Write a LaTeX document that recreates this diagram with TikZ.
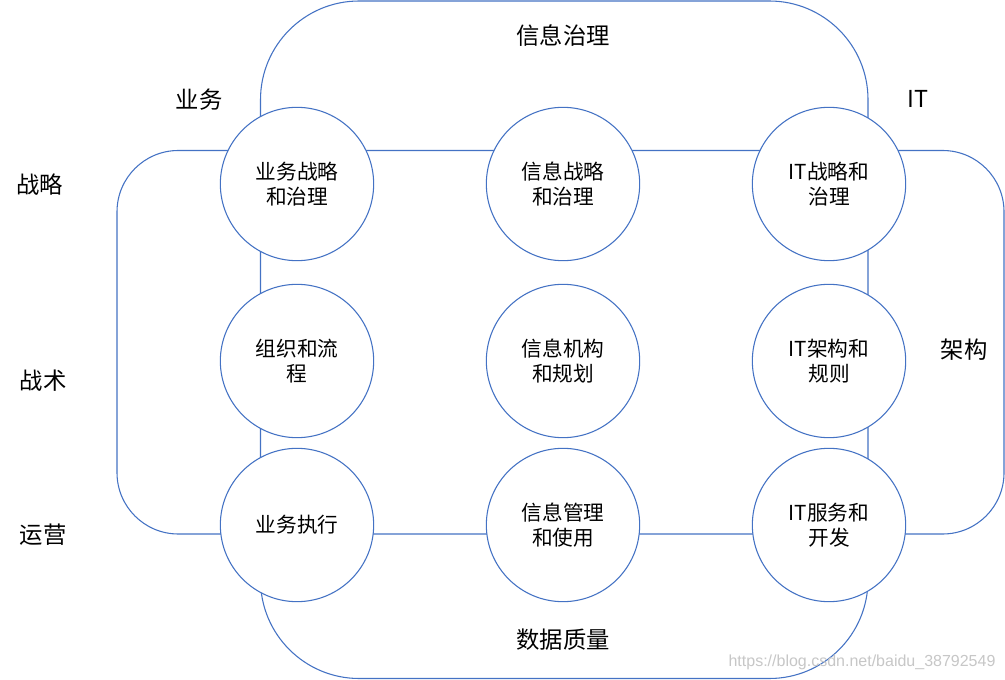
\documentclass[tikz,border=0pt]{standalone}
\usepackage{fontspec}
\setmainfont{Noto Sans CJK SC}
\newfontfamily\wmfont{Liberation Sans}
\definecolor{frameblue}{HTML}{4472C4}
\begin{document}
\begin{tikzpicture}[x=0.75pt,y=-0.75pt,
  frame/.style={draw=frameblue, line width=0.8pt},
  circ/.style={circle, draw=frameblue, line width=0.8pt, fill=white, minimum size=115pt, inner sep=0pt, align=center, font=\fontsize{15.5}{18.8}\selectfont},
  lbl/.style={font=\fontsize{17.5}{21}\selectfont, inner sep=0pt}]
\useasboundingbox (0,0) rectangle (1005,680);
\fill[white] (0,0) rectangle (1005,680);
% frames
\draw[frame, rounded corners=74pt] (260.5,1) rectangle (868,678.5);
\draw[frame, rounded corners=46pt] (117,150.5) rectangle (1004,534);
% circles
\node[circ] (c11) at (297,184) {业务战略\\和治理};
\node[circ] (c12) at (563,184) {信息战略\\和治理};
\node[circ] (c13) at (829,184) {IT战略和\\治理};
\node[circ] (c21) at (297,361) {组织和流\\程};
\node[circ] (c22) at (563,361) {信息机构\\和规划};
\node[circ] (c23) at (829,361) {IT架构和\\规则};
\node[circ] (c31) at (297,525) {业务执行};
\node[circ] (c32) at (563,525) {信息管理\\和使用};
\node[circ] (c33) at (829,525) {IT服务和\\开发};
% labels
\node[lbl] (tgov) at (563,36) {信息治理};
\node[lbl] (tbiz) at (199,100) {业务};
\node[lbl] (tit) at (918,99) {IT};
\node[lbl] (tstr) at (40,185) {战略};
\node[lbl] (ttac) at (43,381) {战术};
\node[lbl] (tops) at (43,535) {运营};
\node[lbl] (tarc) at (964,350) {架构};
\node[lbl] (tdq) at (563,640) {数据质量};
\node[inner sep=0pt, text=black!22, font=\wmfont\fontsize{12}{14}\selectfont] (wm) at (862,662) {https://blog.csdn.net/baidu\_38792549};
\end{tikzpicture}
\end{document}
